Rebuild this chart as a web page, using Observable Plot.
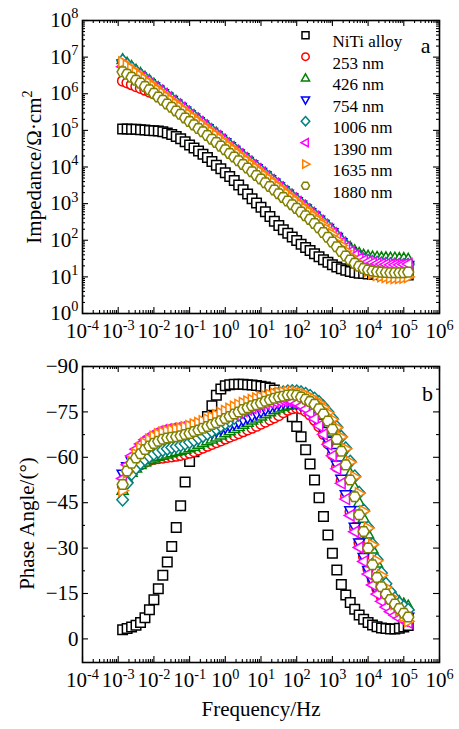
<!DOCTYPE html>
<html><head><meta charset="utf-8">
<script src="https://cdn.jsdelivr.net/npm/d3@7"></script>
<script src="https://cdn.jsdelivr.net/npm/@observablehq/plot@0.6"></script>
<style>
html,body{margin:0;padding:0;background:#fff;}
#chart svg{display:block;}
#chart svg, #chart svg text, #chart svg tspan{font-family:"Liberation Serif","DejaVu Serif","Times New Roman",serif !important;}
</style></head><body><div id="chart"></div>
<script>
// ---------- data ----------
const freq = [0.00133,0.00178,0.00237,0.00316,0.00422,0.00562,0.0075,0.01,
  0.0133,0.0178,0.0237,0.0316,0.0422,0.0562,0.075,0.1,
  0.133,0.178,0.237,0.316,0.422,0.562,0.75,1,
  1.33,1.78,2.37,3.16,4.22,5.62,7.5,10,
  13.3,17.8,23.7,31.6,42.2,56.2,75,100,
  133,178,237,316,422,562,750,1000,
  1330,1780,2370,3160,4220,5620,7500,10000,
  13300,17800,23700,31600,42200,56200,75000,100000,133000];

const seriesNames = ["NiTi alloy","253 nm","426 nm","754 nm","1006 nm","1390 nm","1635 nm","1880 nm"];
const seriesColors = ["#000000","#ff0000","#008000","#0000ff","#008080","#ff00ff","#ff8000","#808000"];

// log10 |Z| (Ω·cm²)
const logImpNiTi = [5.04,5.04,5.03,5.03,5.02,5.01,5.00,4.99,4.98,4.96,4.93,4.89,4.83,4.77,4.69,4.60,4.52,4.44,4.35,4.26,4.15,4.05,3.95,3.84,3.74,3.63,3.51,3.38,3.26,3.13,3.02,2.90,2.78,2.65,2.52,2.40,2.29,2.19,2.09,1.99,1.89,1.80,1.72,1.63,1.55,1.47,1.40,1.33,1.27,1.22,1.18,1.15,1.12,1.10,1.09,1.08,1.07,1.07,1.06,1.06,1.06,1.05,1.05,1.05,1.05];
const logImp253 = [6.35,6.30,6.25,6.20,6.15,6.10,6.05,6.00,5.93,5.86,5.78,5.70,5.61,5.52,5.42,5.32,5.22,5.12,5.02,4.92,4.82,4.72,4.62,4.52,4.40,4.30,4.20,4.10,4.00,3.90,3.80,3.70,3.60,3.50,3.40,3.30,3.20,3.10,3.00,2.90,2.80,2.70,2.60,2.50,2.39,2.28,2.16,2.04,1.91,1.78,1.66,1.55,1.46,1.39,1.34,1.30,1.28,1.26,1.25,1.24,1.24,1.23,1.23,1.23,1.24];
const logImp426 = [6.93,6.83,6.74,6.64,6.55,6.45,6.36,6.26,6.16,6.07,5.97,5.88,5.78,5.69,5.59,5.49,5.40,5.30,5.21,5.11,5.01,4.92,4.82,4.72,4.62,4.52,4.42,4.32,4.22,4.12,4.02,3.92,3.82,3.72,3.62,3.52,3.42,3.32,3.22,3.12,3.02,2.92,2.82,2.72,2.61,2.50,2.39,2.28,2.16,2.03,1.91,1.80,1.71,1.64,1.59,1.56,1.54,1.53,1.52,1.52,1.51,1.51,1.50,1.50,1.48];
const logImp754 = [6.82,6.73,6.64,6.55,6.46,6.37,6.28,6.19,6.10,6.01,5.91,5.82,5.72,5.63,5.53,5.43,5.34,5.24,5.15,5.05,4.95,4.86,4.76,4.66,4.56,4.46,4.36,4.26,4.16,4.06,3.96,3.86,3.76,3.66,3.56,3.46,3.36,3.26,3.16,3.06,2.96,2.86,2.76,2.66,2.55,2.44,2.33,2.21,2.08,1.94,1.81,1.69,1.59,1.51,1.45,1.41,1.38,1.36,1.34,1.33,1.32,1.31,1.31,1.31,1.32];
const logImp1006 = [6.90,6.80,6.71,6.61,6.52,6.42,6.33,6.23,6.13,6.04,5.94,5.85,5.75,5.66,5.56,5.46,5.37,5.27,5.18,5.08,4.98,4.89,4.79,4.69,4.59,4.49,4.39,4.29,4.19,4.09,3.99,3.89,3.79,3.69,3.59,3.49,3.39,3.29,3.19,3.09,2.99,2.89,2.79,2.69,2.58,2.47,2.36,2.24,2.11,1.97,1.84,1.72,1.62,1.54,1.48,1.44,1.41,1.39,1.37,1.36,1.35,1.34,1.33,1.33,1.33];
const logImp1390 = [6.74,6.66,6.58,6.50,6.42,6.34,6.26,6.17,6.08,5.99,5.89,5.80,5.70,5.61,5.51,5.41,5.32,5.22,5.13,5.03,4.93,4.84,4.74,4.64,4.54,4.44,4.34,4.24,4.14,4.04,3.94,3.84,3.74,3.64,3.54,3.44,3.34,3.24,3.14,3.04,2.94,2.84,2.74,2.64,2.53,2.42,2.31,2.19,2.06,1.93,1.80,1.68,1.58,1.50,1.45,1.41,1.38,1.36,1.35,1.34,1.33,1.33,1.33,1.34,1.35];
const logImp1635 = [6.86,6.77,6.68,6.58,6.49,6.39,6.30,6.20,6.10,6.01,5.91,5.82,5.72,5.63,5.53,5.43,5.34,5.24,5.15,5.05,4.95,4.86,4.76,4.66,4.56,4.46,4.36,4.26,4.16,4.06,3.96,3.86,3.76,3.66,3.56,3.46,3.36,3.26,3.16,3.06,2.96,2.86,2.76,2.65,2.54,2.42,2.29,2.16,2.01,1.86,1.71,1.57,1.44,1.33,1.24,1.16,1.10,1.05,1.02,1.00,0.98,0.97,0.97,0.98,1.00];
const logImp1880 = [6.60,6.53,6.45,6.37,6.29,6.20,6.11,6.01,5.91,5.82,5.72,5.63,5.53,5.44,5.34,5.24,5.15,5.05,4.96,4.86,4.76,4.67,4.57,4.47,4.37,4.27,4.17,4.07,3.97,3.87,3.77,3.67,3.57,3.47,3.37,3.27,3.17,3.07,2.97,2.87,2.77,2.67,2.57,2.46,2.34,2.21,2.08,1.95,1.82,1.69,1.57,1.46,1.37,1.29,1.23,1.19,1.16,1.14,1.13,1.12,1.11,1.11,1.11,1.11,1.13];

// phase angle (°)
const phaseNiTi = [-3.0,-3.4,-3.9,-4.5,-5.4,-7.0,-9.6,-12.9,-16.6,-21.0,-25.4,-30.5,-36.8,-44.0,-51.8,-58.6,-61.8,-65.5,-69.8,-73.5,-77.0,-80.5,-82.6,-83.6,-84.0,-84.1,-84.1,-84.1,-84.0,-83.9,-83.7,-83.5,-83.2,-82.9,-82.2,-81.0,-79.2,-76.8,-73.4,-70.2,-66.8,-62.5,-57.8,-52.5,-46.6,-40.4,-34.3,-28.3,-22.8,-18.0,-14.5,-12.0,-9.8,-7.9,-6.5,-5.4,-4.6,-4.0,-3.6,-3.4,-3.3,-3.3,-3.5,-3.9,-4.4];
const phase253 = [-50.5,-53.5,-55.3,-56.6,-57.6,-58.4,-59.0,-59.4,-59.6,-59.8,-60.0,-60.2,-60.4,-60.7,-61.0,-61.4,-61.9,-62.5,-63.1,-63.7,-64.3,-64.9,-65.5,-66.1,-66.7,-67.3,-67.9,-68.5,-69.1,-69.7,-70.3,-71.0,-71.7,-72.4,-73.1,-73.8,-74.8,-75.6,-76.1,-76.3,-76.0,-75.2,-74.0,-72.3,-70.2,-67.6,-64.5,-60.9,-56.8,-52.2,-47.2,-42.0,-36.8,-31.8,-27.2,-23.0,-19.4,-16.4,-13.9,-12.0,-10.5,-9.4,-8.6,-8.0,-7.6];
const phase426 = [-49.0,-53.0,-55.0,-56.4,-57.5,-58.4,-59.1,-59.7,-60.2,-60.6,-61.0,-61.4,-61.8,-62.2,-62.6,-63.1,-63.6,-64.2,-64.8,-65.4,-66.0,-66.6,-67.3,-68.0,-68.7,-69.4,-70.1,-70.8,-71.5,-72.2,-72.9,-73.6,-74.3,-75.0,-75.6,-76.2,-76.7,-77.1,-77.4,-77.5,-77.3,-76.8,-76.0,-75.0,-73.8,-72.3,-70.5,-68.3,-65.6,-62.5,-58.8,-54.6,-50.0,-45.0,-39.8,-34.6,-29.6,-25.0,-21.0,-17.8,-15.3,-13.5,-12.3,-11.5,-10.8];
const phase754 = [-54.5,-57.0,-58.8,-60.0,-61.0,-61.8,-62.4,-62.9,-63.3,-63.6,-63.9,-64.2,-64.5,-64.9,-65.3,-65.8,-66.3,-66.8,-67.3,-67.8,-68.3,-68.8,-69.3,-69.9,-70.5,-71.1,-71.7,-72.4,-73.1,-73.8,-74.5,-75.2,-75.9,-76.6,-77.2,-77.7,-78.1,-78.3,-78.3,-78.0,-77.4,-76.5,-75.2,-73.5,-71.3,-68.6,-65.4,-61.7,-57.5,-52.8,-47.7,-42.4,-37.0,-31.8,-27.0,-22.7,-19.0,-15.9,-13.4,-11.5,-10.0,-8.9,-8.1,-7.5,-7.2];
const phase1006 = [-46.0,-51.5,-54.5,-56.5,-58.0,-59.3,-60.3,-61.1,-61.8,-62.4,-62.8,-63.2,-63.6,-64.0,-64.5,-65.0,-65.6,-66.3,-67.0,-67.8,-68.6,-69.4,-70.3,-71.2,-72.1,-73.0,-74.0,-75.0,-76.0,-77.0,-77.9,-78.7,-79.4,-80.0,-80.6,-81.1,-81.5,-81.8,-81.9,-81.8,-81.5,-81.0,-80.3,-79.4,-78.3,-76.8,-75.0,-72.8,-70.0,-66.8,-63.0,-58.6,-53.7,-48.3,-42.5,-36.8,-31.3,-26.2,-21.8,-18.2,-15.5,-13.4,-11.8,-10.6,-9.6];
const phase1390 = [-53.0,-57.5,-60.5,-62.7,-64.4,-65.8,-66.9,-67.8,-68.4,-68.9,-69.2,-69.4,-69.6,-69.8,-70.0,-70.3,-70.6,-71.0,-71.4,-71.8,-72.2,-72.6,-73.0,-73.4,-73.8,-74.3,-74.8,-75.3,-75.8,-76.3,-76.8,-77.3,-77.7,-78.1,-78.4,-78.6,-78.7,-78.6,-78.3,-77.8,-77.0,-75.9,-74.5,-72.7,-70.4,-67.6,-64.3,-60.5,-56.2,-51.4,-46.2,-40.8,-35.4,-30.2,-25.6,-21.4,-17.8,-14.8,-12.4,-10.5,-9.0,-7.8,-6.8,-6.0,-5.4];
const phase1635 = [-49.0,-55.0,-58.5,-61.0,-63.0,-64.6,-65.8,-66.8,-67.6,-68.2,-68.6,-68.9,-69.2,-69.5,-69.9,-70.3,-70.8,-71.3,-71.9,-72.5,-73.2,-73.9,-74.6,-75.3,-76.0,-76.7,-77.3,-77.9,-78.4,-78.9,-79.4,-79.8,-80.2,-80.6,-81.0,-81.3,-81.5,-81.6,-81.6,-81.5,-81.2,-80.7,-80.0,-79.2,-78.0,-76.5,-74.7,-72.5,-69.8,-66.7,-62.8,-58.4,-53.5,-48.1,-42.2,-36.6,-31.1,-25.8,-21.0,-17.0,-14.0,-11.5,-9.5,-7.5,-5.8];
const phase1880 = [-51.0,-55.5,-58.0,-59.8,-61.2,-62.6,-63.7,-64.6,-65.3,-66.0,-66.4,-66.6,-66.8,-67.1,-67.5,-67.9,-68.5,-69.0,-69.6,-70.2,-70.8,-71.4,-72.1,-72.8,-73.5,-74.3,-75.0,-75.8,-76.4,-77.0,-77.4,-77.9,-78.5,-79.0,-79.5,-79.9,-80.2,-80.6,-80.7,-80.5,-79.9,-79.2,-78.4,-77.5,-76.0,-74.3,-72.0,-69.3,-66.0,-62.0,-57.5,-52.5,-47.0,-41.0,-35.5,-30.0,-24.5,-20.3,-17.2,-14.8,-13.0,-11.5,-10.0,-8.5,-7.2];

// tick labels
const freqTickExponents = [-4,-3,-2,-1,0,1,2,3,4,5,6];
const impTickExponents = [0,1,2,3,4,5,6,7,8];
const phaseTicks = [-90,-75,-60,-45,-30,-15,0];

// ---------- symbols ----------
function poly(pts){
  return {draw(ctx, size){
    const r = Math.sqrt(size/Math.PI);
    pts.forEach(([x,y],i)=> i ? ctx.lineTo(x*r,y*r) : ctx.moveTo(x*r,y*r));
    ctx.closePath();
  }};
}
const symSquare = poly([[-0.95,-0.95],[0.95,-0.95],[0.95,0.95],[-0.95,0.95]]);
const symCircle = {draw(ctx,size){const r=Math.sqrt(size/Math.PI); ctx.moveTo(r,0); ctx.arc(0,0,r,0,2*Math.PI); ctx.closePath();}};
const symUp = poly([[0,-1.2],[1.1,0.75],[-1.1,0.75]]);
const symDown = poly([[0,1.2],[1.1,-0.75],[-1.1,-0.75]]);
const symDiamond = poly([[0,-1.25],[1.15,0],[0,1.25],[-1.15,0]]);
const symLeft = poly([[-1.2,0],[0.75,-1.1],[0.75,1.1]]);
const symRight = poly([[1.2,0],[-0.75,-1.1],[-0.75,1.1]]);
const symHex = poly([0,1,2,3,4,5].map(k=>[1.1*Math.cos(k*Math.PI/3), 1.1*Math.sin(k*Math.PI/3)]));
const symbols = [symSquare, symCircle, symUp, symDown, symDiamond, symLeft, symRight, symHex];

const impSeries = [logImpNiTi, logImp253, logImp426, logImp754, logImp1006, logImp1390, logImp1635, logImp1880];
const phaseSeries = [phaseNiTi, phase253, phase426, phase754, phase1006, phase1390, phase1635, phase1880];

// ---------- layout ----------
const W = 459, ML = 82, MR = 20;
const FW = W - ML - MR;
const FONT = "'Liberation Serif','DejaVu Serif','Times New Roman',serif";
const baseStyle = {fontFamily: FONT, fontSize: "21px", background: "#fff", color: "#000", overflow: "visible"};

const xMajor = freqTickExponents.map(e => Math.pow(10, e));
const xMinor = [];
for (let e = -4; e < 6; e++) for (let k = 2; k <= 9; k++) xMinor.push(k * Math.pow(10, e));
const impMajor = impTickExponents.map(e => Math.pow(10, e));
const impMinor = [];
for (let e = 0; e < 8; e++) for (let k = 2; k <= 9; k++) impMinor.push(k * Math.pow(10, e));
const phaseMinor = phaseTicks.slice(1).map(v => v - 7.5);

function ticksX(vals, len, FH){
  return [Plot.tickX(vals, {x: d=>d, insetTop: FH - len, strokeWidth: 1.1}),
          Plot.tickX(vals, {x: d=>d, insetBottom: FH - len, strokeWidth: 1.1})];
}
function ticksY(vals, len){
  return [Plot.tickY(vals, {y: d=>d, insetRight: FW - len, strokeWidth: 1.1}),
          Plot.tickY(vals, {y: d=>d, insetLeft: FW - len, strokeWidth: 1.1})];
}
const expFormat = d => "10^" + Math.round(Math.log10(d));

function dataMarks(seriesArr, conv){
  return seriesArr.map((arr, k) => Plot.dot(freq.map((f, i) => ({f, v: conv(arr[i])})), {
    x: "f", y: "v", symbol: symbols[k], r: 5.0, stroke: seriesColors[k], fill: "white", strokeWidth: 1.5
  }));
}

// ---------- top panel ----------
const H1 = 340, MT1 = 20, MB1 = 27, FH1 = H1 - MT1 - MB1;
const legendMarks = [];
seriesNames.forEach((name, i) => {
  legendMarks.push(Plot.dot([name], {frameAnchor: "top-left", dx: 223, dy: 14.7 + i*21.5,
    symbol: symbols[i], r: 3.7, stroke: seriesColors[i], fill: "none", strokeWidth: 1.5}));
  legendMarks.push(Plot.text([name], {frameAnchor: "top-left", dx: 250, dy: 14.7 + i*21.5,
    textAnchor: "start", fontSize: 17}));
});

const topPlot = Plot.plot({
  width: W, height: H1, marginLeft: ML, marginRight: MR, marginTop: MT1, marginBottom: MB1,
  style: baseStyle,
  x: {type: "log", domain: [1e-4, 1e6]},
  y: {type: "log", domain: [1, 1e8]},
  marks: [
    ...ticksX(xMajor, 6, FH1), ...ticksX(xMinor, 3, FH1),
    ...ticksY(impMajor, 6), ...ticksY(impMinor, 3),
    ...dataMarks(impSeries, v => Math.pow(10, v)),
    Plot.frame({strokeWidth: 1.6}),
    Plot.axisX({ticks: xMajor, tickSize: 0, tickPadding: 10, tickFormat: expFormat, label: null}),
    Plot.axisY({ticks: impMajor, tickSize: 0, tickPadding: 4, tickFormat: expFormat, label: null}),
    Plot.text(["Impedance/Ω·cm^2"], {frameAnchor: "left", textAnchor: "middle", dx: -48, rotate: -90, fontSize: 21}),
    Plot.text(["a"], {frameAnchor: "top-right", textAnchor: "middle", dx: -14, dy: 17, fontSize: 22}),
    ...legendMarks
  ]
});

// ---------- bottom panel ----------
const H2 = 389, MT2 = 26, MB2 = 67, FH2 = H2 - MT2 - MB2;
const bottomPlot = Plot.plot({
  width: W, height: H2, marginLeft: ML, marginRight: MR, marginTop: MT2, marginBottom: MB2,
  style: baseStyle,
  x: {type: "log", domain: [1e-4, 1e6]},
  y: {domain: [7.8, -90]},
  marks: [
    ...ticksX(xMajor, 6, FH2), ...ticksX(xMinor, 3, FH2),
    ...ticksY(phaseTicks, 6), ...ticksY(phaseMinor, 3),
    ...dataMarks(phaseSeries, v => v),
    Plot.frame({strokeWidth: 1.6}),
    Plot.axisX({ticks: xMajor, tickSize: 0, tickPadding: 10, tickFormat: expFormat, label: null}),
    Plot.axisY({ticks: phaseTicks, tickSize: 0, tickPadding: 4,
      tickFormat: d => d < 0 ? "\u2212" + Math.abs(d) : String(d), label: null}),
    Plot.text(["Phase Angle/(°)"], {frameAnchor: "left", textAnchor: "middle", dx: -55, dy: 9, rotate: -90, fontSize: 21}),
    Plot.text(["Frequency/Hz"], {frameAnchor: "bottom", textAnchor: "middle", dy: 53, fontSize: 21}),
    Plot.text(["b"], {frameAnchor: "top-right", textAnchor: "middle", dx: -12, dy: 19, fontSize: 22})
  ]
});

// ---------- superscripts ----------
const NS = "http://www.w3.org/2000/svg";
function supify(svg){
  svg.querySelectorAll("text").forEach(t => {
    if (t.querySelector("tspan")) return;
    const m = t.textContent.match(/^(.*)\^(.+)$/);
    if (!m) return;
    while (t.firstChild) t.removeChild(t.firstChild);
    const a = document.createElementNS(NS, "tspan"); a.textContent = m[1]; t.appendChild(a);
    const b = document.createElementNS(NS, "tspan");
    b.setAttribute("dy", "-0.62em"); b.setAttribute("font-size", "0.68em");
    b.textContent = m[2]; t.appendChild(b);
  });
}
supify(topPlot); supify(bottomPlot);

const el = document.getElementById("chart");
el.appendChild(topPlot);
el.appendChild(bottomPlot);
</script>
</body></html>
